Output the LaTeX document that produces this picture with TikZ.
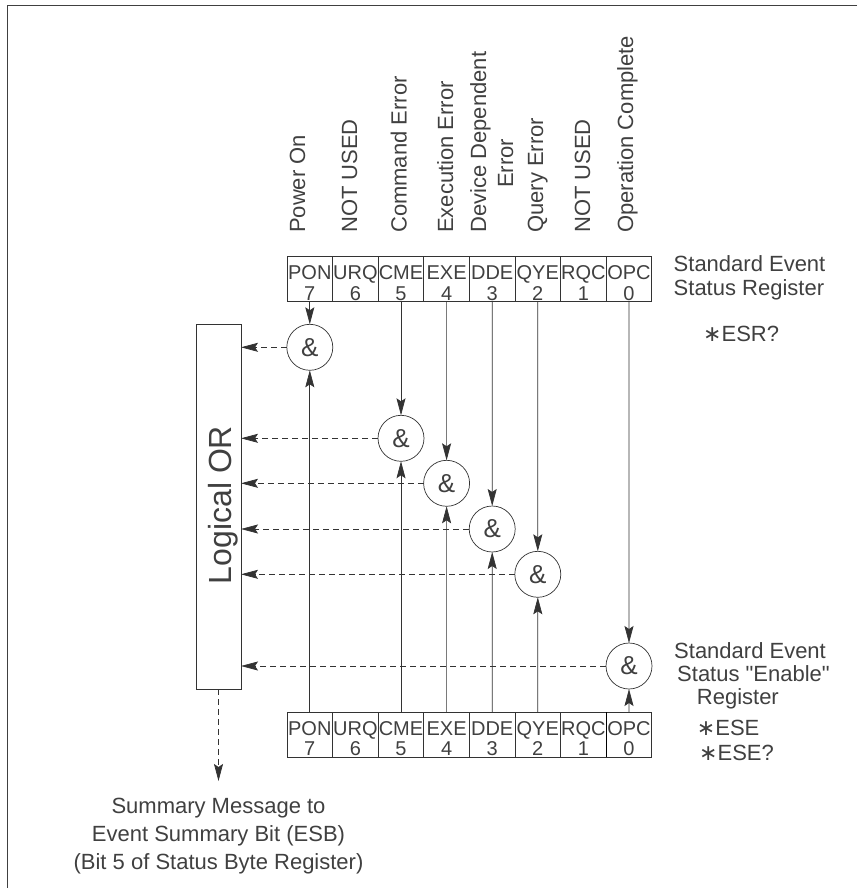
\documentclass[tikz,border=0pt]{standalone}
\usepackage{fontspec}
\setmainfont{Liberation Sans}
\newfontfamily\symf{DejaVu Sans}
\newfontfamily\plainf{Liberation Sans}
\usetikzlibrary{arrows.meta}
\tikzset{
  ln/.style={draw=black!80, line width=0.7pt},
  cell/.style={ln, rectangle, minimum width=45.6pt, minimum height=45pt, inner sep=0pt, outer sep=0pt},
  celltxt/.style={inner sep=0pt, anchor=base, font=\fontsize{20}{24}\selectfont, text=black!75},
  andgate/.style={ln, circle, minimum size=46pt, inner sep=0pt, outer sep=0pt, fill=white, font=\fontsize{26}{30}\selectfont, text=black!75},
  vlabel/.style={rotate=90, anchor=base west, inner sep=0pt, font=\fontsize{22}{26}\selectfont, text=black!75},
  rlabel/.style={anchor=base west, inner sep=0pt, font=\fontsize{22}{26}\selectfont, text=black!75},
  blabel/.style={anchor=base, inner sep=0pt, font=\fontsize{22}{26}\selectfont, text=black!75},
  arr/.style={ln, -{Stealth[length=17pt,width=9pt,inset=3pt]}},
  darr/.style={arr, dash pattern=on 6pt off 4pt},
}
\begin{document}
\begin{tikzpicture}[x=1pt,y=-1pt]
\useasboundingbox (0,0) rectangle (857,888);
\draw[line width=1pt, draw=black!75] (857,5.5) -- (7,5.5) -- (7,888);

% registers
\foreach \n/\b [count=\i from 0] in {PON/7,URQ/6,CME/5,EXE/4,DDE/3,QYE/2,RQC/1,OPC/0} {
  \pgfmathsetmacro\cx{287+45.6*(\i+0.5)}
  \node[cell] (t\b) at (\cx,278.5) {};
  \node[celltxt] (tn\b) at (\cx,279) {\n};
  \node[celltxt] (td\b) at (\cx,300) {\b};
  \node[cell] (b\b) at (\cx,734.5) {};
  \node[celltxt] (bn\b) at (\cx,735) {\n};
  \node[celltxt] (bd\b) at (\cx,755.5) {\b};
}
\draw[line width=1.4pt] (b0.north west) -- (b0.south west);

% AND gates
\node[andgate] (c7) at (309.8,347.3) {\&};
\node[andgate] (c5) at (401.0,438.3) {\&};
\node[andgate] (c4) at (446.6,483.3) {\&};
\node[andgate] (c3) at (492.2,529) {\&};
\node[andgate] (c2) at (537.8,574.3) {\&};
\node[andgate] (c0) at (629.0,666) {\&};

% logical OR box
\node[ln, rectangle, minimum width=45pt, minimum height=365pt, inner sep=0pt, outer sep=0pt] (or) at (218.5,506.5) {};
\node[rotate=90, anchor=base, inner sep=0pt, font=\fontsize{32}{36}\selectfont, text=black!75] (ortxt) at (231.5,505) {Logical OR};

% connectors
\foreach \b in {7,5,4,3,2,0} {
  \draw[arr] (t\b.south) -- (c\b.north);
  \draw[arr] (b\b.north) -- (c\b.south);
  \draw[darr] (c\b.west) -- (c\b.west -| or.east);
}
\coordinate (sumend) at (218.5,781);
\draw[darr] (or.south) -- (sumend);

% bottom text
\node[blabel] (s1) at (218.5,813) {Summary Message to};
\node[blabel] (s2) at (218.5,841) {Event Summary Bit (ESB)};
\node[blabel] (s3) at (218.5,869) {(Bit 5 of Status Byte Register)};

% top labels
\node[vlabel] (l7) at (305,233) {Power On};
\node[vlabel] (l6) at (357,233) {NOT USED};
\node[vlabel] (l5) at (406.5,233) {Command Error};
\node[vlabel] (l4) at (453,233) {Execution Error};
\node[vlabel] (l3a) at (486,233) {Device Dependent};
\node[vlabel] (l3b) at (513,188) {Error};
\node[vlabel] (l2) at (543,233) {Query Error};
\node[vlabel] (l1) at (590,233) {NOT USED};
\node[vlabel] (l0) at (633,233) {Operation Complete};

% right labels
\node[rlabel] (r1) at (673.5,271.7) {Standard Event};
\node[rlabel] (r2) at (673.5,295) {Status Register};
\node[rlabel] (r3) at (703,341.7) {{\symf ∗}ESR?};
\node[rlabel] (e1) at (674,658) {Standard Event};
\node[rlabel] (e2) at (677,681.7) {Status {\plainf "}Enable{\plainf "}};
\node[rlabel] (e3) at (696.7,704) {Register};
\node[rlabel] (e4) at (696.7,735) {{\symf ∗}ESE};
\node[rlabel] (e5) at (699,760) {{\symf ∗}ESE?};
\end{tikzpicture}
\end{document}
